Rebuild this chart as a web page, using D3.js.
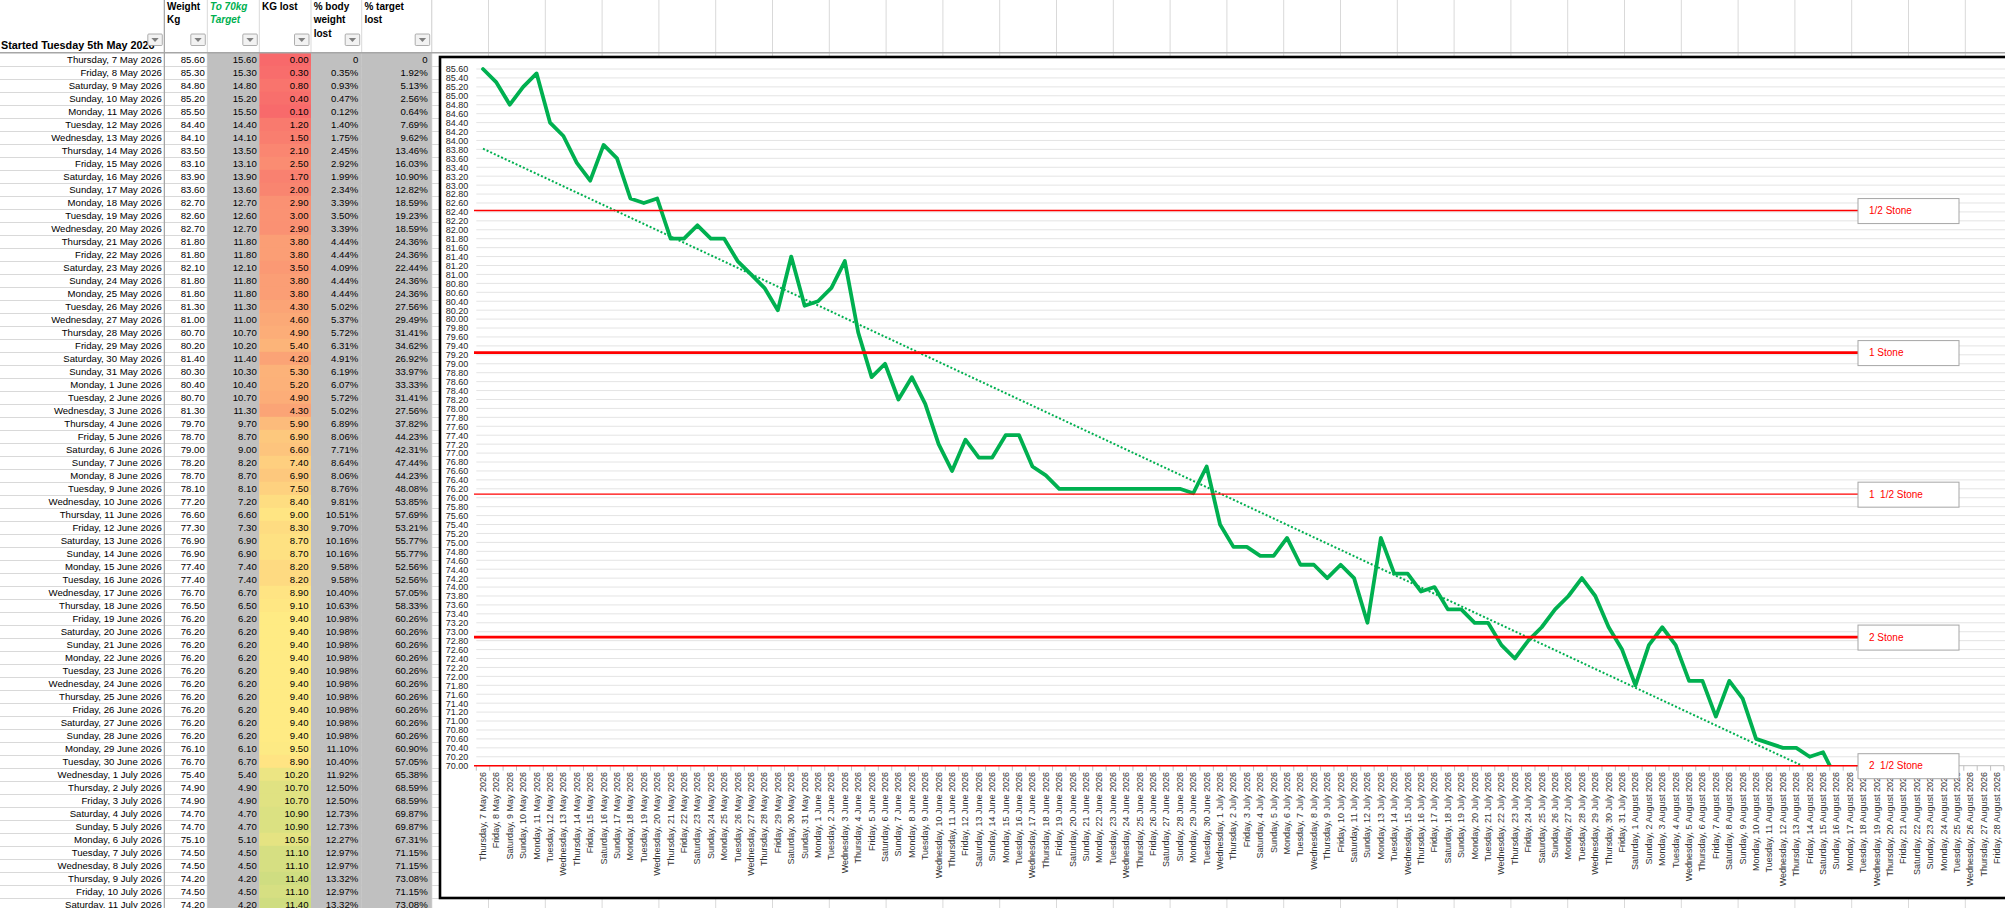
<!DOCTYPE html>
<html><head><meta charset="utf-8">
<script src="https://cdn.jsdelivr.net/npm/d3@7"></script>
<style>
html,body{margin:0;padding:0;background:#fff;overflow:hidden}
svg{display:block}
text{font-family:"Liberation Sans",Arial,sans-serif}
</style></head><body>
<svg id="c" width="2005" height="908"></svg>
<script>
// ---------- DATA ----------
const startDate = "2026-05-07";   // first category on the x axis
const endDate = "2026-08-28";     // last category on the x axis
const targetKg = 70;
const weights = [
 85.6,85.3,84.8,85.2,85.5,84.4,84.1,83.5,83.1,83.9,
 83.6,82.7,82.6,82.7,81.8,81.8,82.1,81.8,81.8,81.3,
 81.0,80.7,80.2,81.4,80.3,80.4,80.7,81.3,79.7,78.7,
 79.0,78.2,78.7,78.1,77.2,76.6,77.3,76.9,76.9,77.4,
 77.4,76.7,76.5,76.2,76.2,76.2,76.2,76.2,76.2,76.2,
 76.2,76.2,76.2,76.1,76.7,75.4,74.9,74.9,74.7,74.7,
 75.1,74.5,74.5,74.2,74.5,74.2,73.2,75.1,74.3,74.3,
 73.9,74.0,73.5,73.5,73.2,73.2,72.7,72.4,72.8,73.1,
 73.5,73.8,74.2,73.8,73.1,72.6,71.8,72.7,73.1,72.7,
 71.9,71.9,71.1,71.9,71.5,70.6,70.5,70.4,70.4,70.2,
 70.3,69.7];
const tableHeaders = [["Started Tuesday 5th May 2026"],["Weight","Kg"],["To 70kg","Target"],["KG lost"],["% body","weight","lost"],["% target","lost"]];
const yTickMin = 70, yTickMax = 85.6, yTickStep = 0.2;
const stoneLabels = ["1/2 Stone","1 Stone","1  1/2 Stone","2 Stone","2  1/2 Stone"];
const stoneValues = [82.43, 79.25, 76.08, 72.88, 70.0];

// ---------- SETUP ----------
const W = 2005, H = 908;
const svg = d3.select("#c");
svg.append("rect").attr("width", W).attr("height", H).attr("fill", "#fff");

const parse = d3.timeParse("%Y-%m-%d");
const dates = d3.timeDay.range(parse(startDate), d3.timeDay.offset(parse(endDate), 1));
const fmtDate = d3.timeFormat("%A, %-d %B %Y");
const categories = dates.map(fmtDate);

const startW = weights[0];
const lost = weights.map(w => +(startW - w).toFixed(2));
const toTarget = weights.map(w => +(w - targetKg).toFixed(2));
const pct = v => v === 0 ? "0" : (v * 100).toFixed(2) + "%";
const pctBody = lost.map(v => pct(v / startW));
const pctTarget = lost.map(v => pct(v / (startW - targetKg)));

const heat = d3.scaleLinear()
  .domain([d3.min(lost), d3.median(lost), d3.max(lost)])
  .range(["#f8696b", "#ffeb84", "#63be7b"]);

// ---------- SPREADSHEET ----------
const colEdges = [0, 164.3, 207.3, 259.3, 311, 361.7, 431.7];
const headerH = 52.8, rowH = 13;
const sheet = svg.append("g");
// only the rows that start inside the window are drawn
const visibleRows = weights.map((w, i) => i).filter(i => headerH + i * rowH < H);

// row gridlines
const rowLines = d3.range(1, weights.length + 1).map(k => headerH + k * rowH).filter(v => v < H);
sheet.selectAll("line.rl").data(rowLines).join("line").attr("class", "rl")
  .attr("x1", 0).attr("x2", W).attr("y1", d => Math.round(d) + 0.5).attr("y2", d => Math.round(d) + 0.5)
  .attr("stroke", "#d9d9d9").attr("stroke-width", 1);
// column gridlines
const extraCols = d3.range(0, 29).map(k => 431.7 + k * 56.8).filter(v => v < W);
sheet.selectAll("line.cl").data(colEdges.slice(1).concat(extraCols)).join("line").attr("class", "cl")
  .attr("x1", d => d).attr("x2", d => d).attr("y1", 0).attr("y2", H)
  .attr("stroke", "#d9d9d9").attr("stroke-width", 1);

// cell fills
const rowsG = sheet.selectAll("g.row").data(visibleRows).join("g").attr("class", "row")
  .attr("transform", i => `translate(0,${headerH + i * rowH})`);
[2, 4, 5].forEach(c => {
  rowsG.append("rect").attr("x", colEdges[c]).attr("width", colEdges[c + 1] - colEdges[c])
    .attr("y", 0).attr("height", rowH + 0.5).attr("fill", "#c0c0c0");
});
rowsG.append("rect").attr("x", colEdges[3]).attr("width", colEdges[4] - colEdges[3])
  .attr("y", 0).attr("height", rowH + 0.5).attr("fill", i => heat(lost[i]));

// A/B border and header bottom line
sheet.append("line").attr("x1", 164.3).attr("x2", 164.3).attr("y1", 0).attr("y2", H)
  .attr("stroke", "#9a9a9a").attr("stroke-width", 1);
sheet.append("line").attr("x1", 0).attr("x2", W).attr("y1", headerH).attr("y2", headerH)
  .attr("stroke", "#a6a6a6").attr("stroke-width", 1.5);

// cell texts
const cellTexts = (i) => [categories[i], weights[i].toFixed(2), toTarget[i].toFixed(2), lost[i].toFixed(2), pctBody[i], pctTarget[i]];
const rightPad = [2.5, 2.5, 2.5, 2.5, 3.4, 4];
rowsG.each(function (i) {
  const g = d3.select(this);
  cellTexts(i).forEach((t, c) => {
    g.append("text").attr("x", colEdges[c + 1] - rightPad[c]).attr("y", rowH / 2 + 3.5)
      .attr("text-anchor", "end").attr("font-size", 9.6).attr("fill", "#000").text(t);
  });
});

// header texts
const hdr = sheet.append("g").attr("font-weight", "bold").attr("font-size", 10);
hdr.append("text").attr("x", 1).attr("y", 48.5).attr("font-size", 10.8).text(tableHeaders[0][0]);
tableHeaders.slice(1).forEach((lines, j) => {
  const c = j + 1;
  const t = hdr.append("text").attr("x", colEdges[c] + 2.7).attr("y", 10);
  lines.forEach((ln, k) => {
    if (c === 2) {
      const m = ln.match(/^(To 70)(kg)$/);
      if (m) {
        t.append("tspan").attr("x", colEdges[c] + 2.7).attr("dy", k ? 13 : 0).attr("fill", "#00b050").attr("font-style", "italic").text(m[1]);
        t.append("tspan").attr("fill", "#00b050").attr("font-style", "italic").text(m[2]);
        return;
      }
      t.append("tspan").attr("x", colEdges[c] + 2.7).attr("dy", k ? 13.3 : 0).attr("fill", "#00b050").attr("font-style", "italic").text(ln);
    } else {
      t.append("tspan").attr("x", colEdges[c] + 2.7).attr("dy", k ? 13.3 : 0).text(ln);
    }
  });
});

// filter buttons
const btn = sheet.selectAll("g.btn").data(colEdges.slice(1)).join("g").attr("class", "btn")
  .attr("transform", d => `translate(${d - 16.5},34)`);
btn.append("rect").attr("width", 14.5).attr("height", 11.5).attr("rx", 1)
  .attr("fill", "#f2f2f2").attr("stroke", "#9a9a9a").attr("stroke-width", 0.8);
btn.append("path").attr("d", "M3.6,4 L10.9,4 L7.25,8 Z").attr("fill", "#7f7f7f");

// ---------- CHART ----------
const plotL = 476.3, plotR = 2004, plotT = 69, plotB = 765.7;
const chart = svg.append("g");
chart.append("rect").attr("x", 440).attr("y", 57).attr("width", 1700).attr("height", 841)
  .attr("fill", "#fff").attr("stroke", "#000").attr("stroke-width", 2.6);

const x = d3.scaleBand().domain(categories).range([plotL, plotR]).padding(0);
const y = d3.scaleLinear().domain([yTickMin, yTickMax]).range([plotB, plotT]);
const cx = i => x(categories[i]) + x.bandwidth() / 2;
const yTicks = d3.range(0, Math.round((yTickMax - yTickMin) / yTickStep) + 1).map(k => +(yTickMin + k * yTickStep).toFixed(2));

// gridlines
chart.append("g").selectAll("line").data(yTicks.filter(v => v > yTickMin)).join("line")
  .attr("x1", plotL).attr("x2", W).attr("y1", d => y(d)).attr("y2", d => y(d))
  .attr("stroke", "#e4e4e4").attr("stroke-width", 1);

// y axis labels
const yAx = chart.append("g").attr("transform", `translate(${plotL},0)`)
  .call(d3.axisLeft(y).tickValues(yTicks).tickFormat(d3.format(".2f")).tickSize(0).tickPadding(8));
yAx.select(".domain").remove();
yAx.selectAll("text").attr("font-size", 9).attr("fill", "#262626")
  .attr("font-family", "'Liberation Sans',Arial,sans-serif");

// x axis line + boundary ticks
chart.append("line").attr("x1", plotL).attr("x2", plotR).attr("y1", plotB).attr("y2", plotB)
  .attr("stroke", "#bfbfbf").attr("stroke-width", 1);
const bounds = categories.map(c => x(c)).concat([plotR]);
chart.append("g").selectAll("line").data(bounds).join("line")
  .attr("x1", d => d).attr("x2", d => d).attr("y1", plotB).attr("y2", plotB + 5)
  .attr("stroke", "#bfbfbf").attr("stroke-width", 1);

// x axis labels
const xAx = chart.append("g").attr("transform", `translate(0,${plotB})`)
  .call(d3.axisBottom(x).tickSize(0));
xAx.select(".domain").remove();
xAx.selectAll("text").attr("font-size", 9).attr("fill", "#333")
  .attr("font-family", "'Liberation Sans',Arial,sans-serif")
  .attr("transform", "rotate(-90)").attr("text-anchor", "end")
  .attr("x", -6.3).attr("y", 0).attr("dy", "0.33em");

// clip
svg.append("defs").append("clipPath").attr("id", "plotClip")
  .append("rect").attr("x", plotL).attr("y", plotT - 6).attr("width", plotR - plotL).attr("height", plotB - plotT + 6);

// data line
const line = d3.line().x((d, i) => cx(i)).y(d => y(d));
chart.append("path").datum(weights).attr("d", line).attr("clip-path", "url(#plotClip)")
  .attr("fill", "none").attr("stroke", "#00b050").attr("stroke-width", 3.8)
  .attr("stroke-linejoin", "round").attr("stroke-linecap", "round");

// linear trendline (least squares)
const n = weights.length;
const mx = d3.mean(weights, (d, i) => i), my = d3.mean(weights);
const slope = d3.sum(weights, (d, i) => (i - mx) * (d - my)) / d3.sum(weights, (d, i) => (i - mx) * (i - mx));
const icpt = my - slope * mx;
chart.append("line").attr("clip-path", "url(#plotClip)")
  .attr("x1", cx(0)).attr("y1", y(icpt)).attr("x2", cx(n - 1)).attr("y2", y(icpt + slope * (n - 1)))
  .attr("stroke", "#00b050").attr("stroke-width", 2).attr("stroke-dasharray", "2,2");

// stone lines and labels
const boxX = 1858, boxW = 101, boxH = 25;
const stones = chart.append("g");
stoneLabels.forEach((lab, i) => {
  const yy = y(stoneValues[i]);
  const whole = !lab.includes("/");
  stones.append("line").attr("x1", 474).attr("x2", boxX).attr("y1", yy).attr("y2", yy)
    .attr("stroke", "#ff0000").attr("stroke-width", whole ? 2.6 : 1.4);
  stones.append("rect").attr("x", boxX).attr("y", yy - 12).attr("width", boxW).attr("height", boxH)
    .attr("fill", "#fff").attr("stroke", "#a6a6a6").attr("stroke-width", 1);
  stones.append("text").attr("x", boxX + 11).attr("y", yy + 3.5)
    .attr("font-size", 10).attr("fill", "#ff0000").style("white-space", "pre").text(lab);
});
</script>
</body></html>
